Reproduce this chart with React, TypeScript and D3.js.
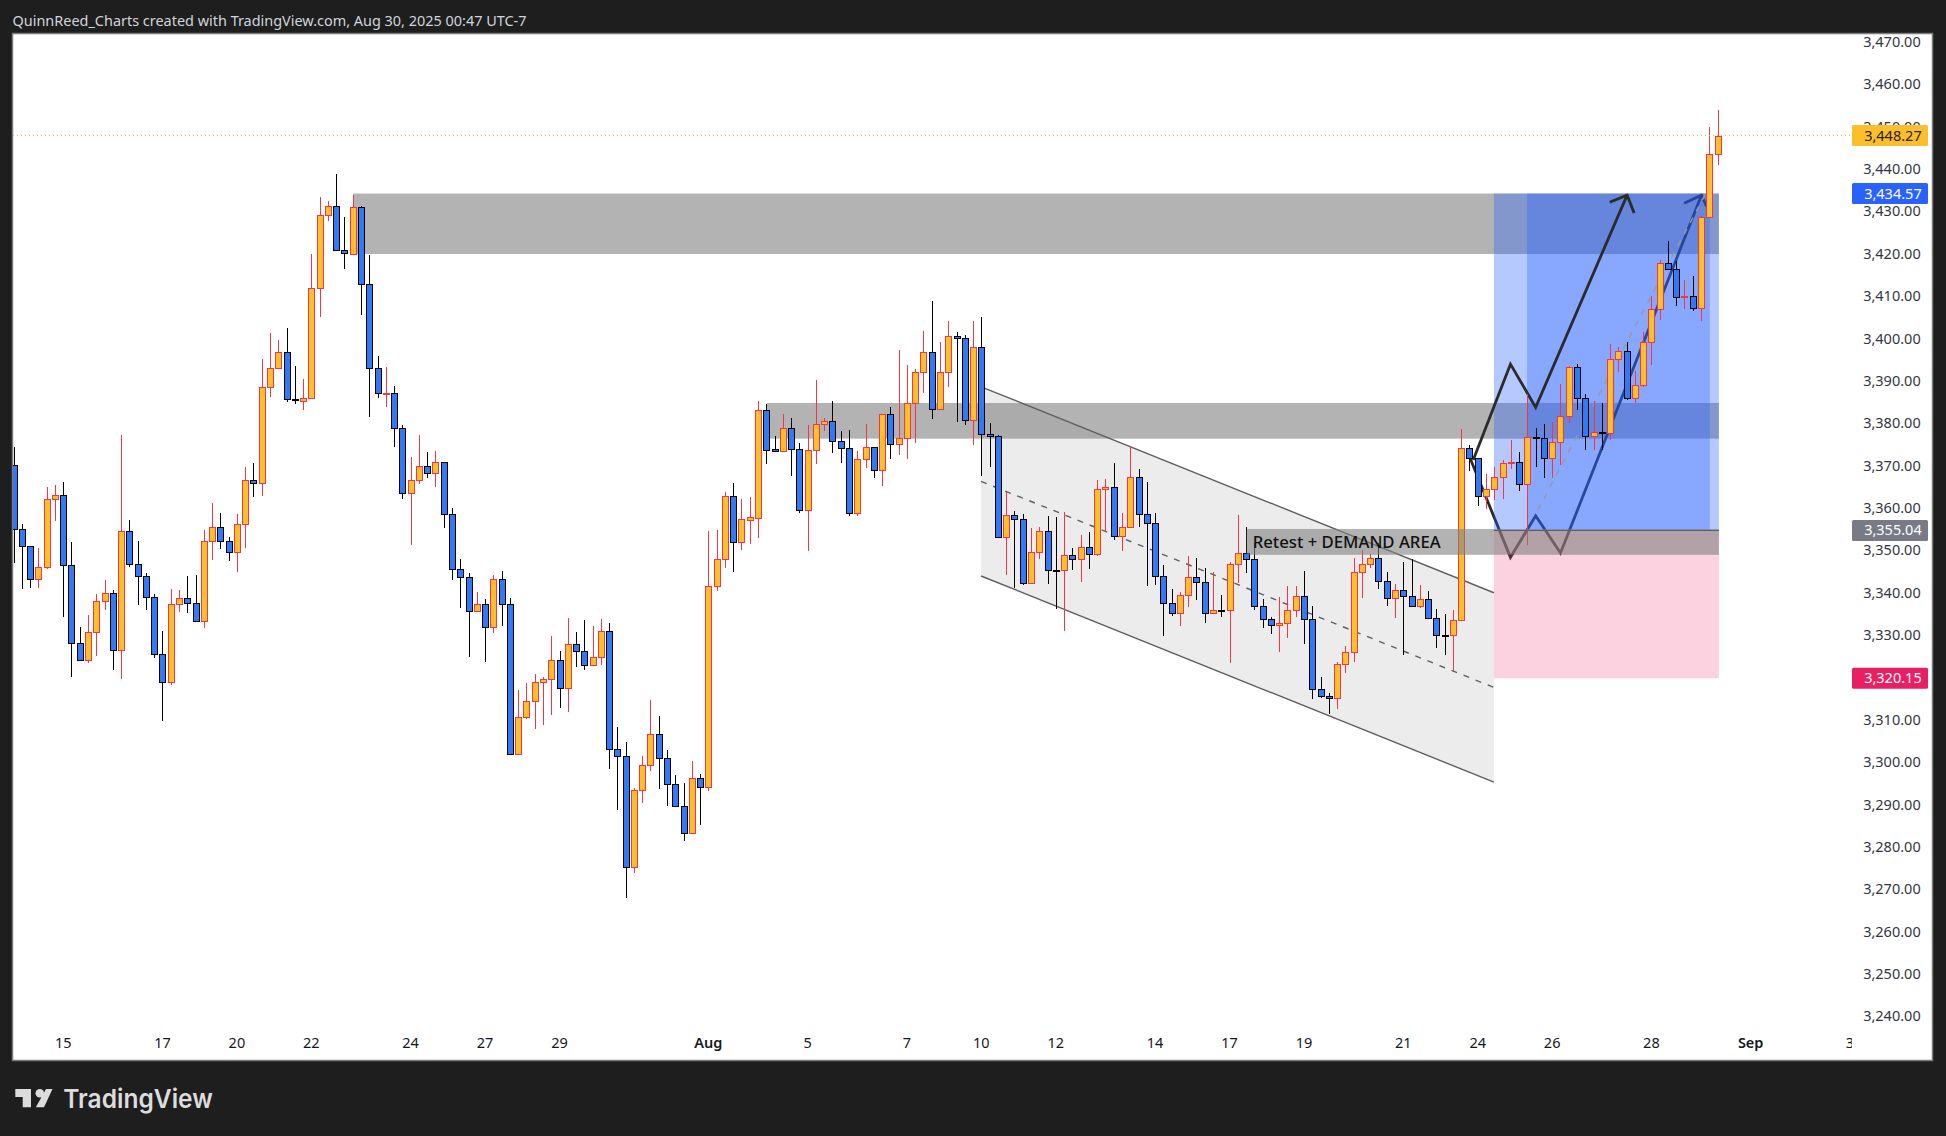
import React from "react";
import * as d3 from "d3";

const opens = [
3370.4,3355.5,3351.3,3343.5,3346.5,3362.4,3363.5,3346.8,3328.4,3324.4,
3331.0,3338.3,3340.2,3326.9,3354.8,3347.2,3344.2,3339.4,3325.8,3319.2,
3337.6,3339.2,3337.9,3333.6,3352.5,3355.8,3352.5,3349.9,3356.5,3366.9,
3366.2,3388.8,3393.3,3397.1,3386.0,3385.7,3386.2,3412.3,3429.4,3431.6,
3421.2,3420.4,3431.3,3413.3,3393.3,3387.5,3387.6,3379.3,3363.8,3366.9,
3370.2,3368.7,3371.1,3358.9,3346.0,3344.0,3336.0,3337.6,3332.2,3343.5,
3337.8,3302.3,3310.9,3314.7,3319.2,3320.1,3324.5,3317.8,3328.3,3326.5,
3323.4,3325.1,3331.4,3303.4,3301.7,3275.7,3293.9,3299.8,3306.9,3301.4,
3295.1,3289.9,3283.7,3296.7,3294.6,3342.0,3348.4,3363.1,3352.4,3357.6,
3358.1,3383.4,3374.2,3373.7,3379.2,3374.2,3359.8,3374.0,3380.1,3380.8,
3376.1,3374.4,3359.1,3371.8,3374.7,3369.2,3382.5,3375.5,3376.8,3385.1,
3392.4,3397.1,3383.6,3392.4,3400.9,3400.4,3381.1,3398.3,3377.7,3377.3,
3353.4,3358.6,3357.7,3342.6,3349.9,3354.9,3345.6,3345.6,3349.2,3348.2,
3351.1,3349.4,3364.8,3365.2,3353.7,3355.8,3367.6,3358.9,3356.7,3344.2,
3337.9,3335.5,3339.7,3344.0,3342.8,3335.5,3336.2,3336.2,3347.1,3349.7,
3348.2,3337.1,3334.1,3332.7,3333.1,3336.2,3339.5,3334.1,3317.6,3315.9,
3315.4,3323.5,3326.3,3345.2,3347.1,3348.5,3343.0,3339.0,3340.9,3339.5,
3337.1,3338.8,3334.3,3330.3,3330.3,3333.8,3374.4,3372.1,3363.1,3364.8,
3367.6,3370.9,3371.1,3365.9,3377.1,3376.8,3372.1,3375.9,3382.0,3393.6,
3386.2,3377.3,3378.2,3378.0,3395.4,3397.3,3386.2,3389.3,3399.5,3407.2,
3418.1,3416.7,3410.1,3410.3,3407.5,3429.0,3443.8];

const highs = [
3374.7,3356.6,3351.3,3350.9,3365.3,3365.8,3366.5,3352.3,3332.3,3335.1,
3340.0,3343.4,3341.0,3377.6,3357.6,3352.6,3345.0,3340.1,3331.3,3341.2,
3341.0,3344.3,3344.6,3355.1,3361.6,3359.1,3353.5,3359.0,3370.1,3371.0,
3395.5,3401.7,3400.0,3402.8,3393.9,3390.8,3420.3,3433.8,3432.8,3439.2,
3429.0,3434.3,3431.6,3420.1,3396.3,3393.6,3389.2,3379.9,3372.4,3377.6,
3373.6,3373.8,3371.1,3360.3,3348.3,3344.9,3340.6,3338.8,3344.6,3345.5,
3339.0,3317.4,3319.0,3321.2,3320.4,3330.1,3326.6,3334.4,3331.1,3333.9,
3332.5,3334.1,3333.2,3308.6,3305.1,3294.2,3301.8,3315.0,3311.3,3303.3,
3297.3,3295.5,3300.6,3297.5,3355.0,3355.2,3364.1,3366.3,3362.5,3363.0,
3385.6,3384.9,3377.4,3382.5,3381.6,3375.7,3379.9,3390.6,3381.6,3385.6,
3378.5,3378.8,3373.8,3380.2,3374.7,3382.5,3384.2,3397.6,3394.1,3393.2,
3402.1,3409.2,3399.5,3404.5,3401.9,3401.2,3404.5,3405.4,3380.3,3377.5,
3364.3,3359.7,3358.9,3355.6,3355.9,3358.5,3358.2,3359.4,3350.9,3354.0,
3354.7,3367.0,3367.2,3371.0,3359.2,3375.0,3369.6,3366.5,3359.2,3346.9,
3341.2,3340.5,3349.0,3348.6,3346.2,3345.3,3339.7,3347.5,3358.7,3355.9,
3352.0,3338.8,3334.6,3339.3,3341.9,3341.9,3345.5,3337.1,3320.4,3316.6,
3323.9,3327.8,3348.5,3350.4,3349.4,3352.0,3345.2,3342.3,3347.6,3348.2,
3342.1,3340.7,3336.5,3335.3,3336.2,3379.0,3375.1,3372.1,3368.4,3370.0,
3371.7,3376.4,3373.6,3387.2,3379.2,3380.2,3380.7,3389.6,3393.9,3394.3,
3387.3,3385.5,3385.1,3399.1,3398.4,3399.5,3392.7,3401.9,3410.5,3418.8,
3423.4,3418.6,3414.1,3415.0,3429.2,3450.2,3454.3];

const lows = [
3347.4,3341.3,3341.5,3341.5,3346.0,3357.2,3334.6,3320.5,3324.4,3323.8,
3325.4,3336.3,3322.1,3320.0,3346.4,3337.5,3336.3,3325.0,3310.0,3318.5,
3335.8,3335.5,3333.6,3332.1,3348.1,3350.6,3347.8,3345.2,3350.9,3363.0,
3363.2,3386.6,3393.3,3385.4,3384.9,3383.5,3386.2,3405.4,3428.1,3421.2,
3416.7,3420.0,3405.9,3381.9,3386.3,3384.1,3374.8,3362.4,3351.6,3366.1,
3367.4,3365.3,3355.7,3343.3,3336.8,3325.2,3336.0,3324.0,3330.8,3332.5,
3302.1,3302.1,3310.6,3308.2,3309.1,3311.5,3313.1,3312.2,3322.8,3322.1,
3323.4,3323.3,3298.8,3289.1,3268.2,3274.2,3290.7,3298.2,3294.0,3290.0,
3289.9,3281.7,3283.7,3285.5,3293.5,3340.8,3346.2,3345.2,3350.4,3351.9,
3353.3,3370.7,3373.7,3373.7,3367.9,3359.2,3350.2,3370.7,3378.5,3373.3,
3371.0,3358.5,3358.5,3369.8,3367.4,3365.5,3371.9,3372.9,3371.9,3375.7,
3387.5,3381.4,3383.6,3388.9,3380.7,3379.9,3375.2,3367.9,3370.0,3353.4,
3344.5,3341.5,3342.2,3342.6,3348.3,3342.4,3336.4,3331.3,3345.6,3342.9,
3346.0,3349.0,3354.6,3352.8,3350.2,3355.8,3355.9,3341.9,3342.2,3330.2,
3334.9,3332.5,3337.0,3338.6,3333.2,3335.5,3334.7,3323.8,3342.7,3344.9,
3336.2,3332.1,3330.7,3326.4,3329.7,3334.7,3328.2,3315.2,3315.4,3311.8,
3312.8,3321.3,3324.1,3339.2,3346.1,3341.2,3337.3,3334.5,3325.7,3337.1,
3336.8,3334.1,3327.4,3325.7,3321.8,3333.8,3369.1,3360.8,3360.0,3362.3,
3362.5,3369.6,3364.4,3351.6,3370.0,3367.4,3367.4,3370.5,3380.4,3383.5,
3374.0,3374.0,3374.0,3376.4,3392.5,3385.9,3385.1,3388.8,3394.1,3404.7,
3416.7,3408.0,3407.3,3406.9,3404.6,3429.0,3441.2];

const closes = [
3355.5,3351.3,3343.5,3346.5,3362.4,3363.5,3346.8,3328.4,3324.4,3331.0,
3338.3,3340.2,3326.9,3354.8,3347.2,3344.2,3339.4,3325.8,3319.2,3337.6,
3339.2,3337.9,3333.6,3352.5,3355.8,3352.5,3349.9,3356.5,3366.9,3366.2,
3388.8,3393.3,3397.1,3386.0,3385.8,3386.2,3412.3,3429.4,3431.6,3421.2,
3420.5,3431.3,3413.3,3393.3,3387.6,3387.6,3379.3,3363.8,3366.9,3370.2,
3368.7,3371.1,3358.9,3346.0,3344.0,3336.0,3337.6,3332.2,3343.5,3337.8,
3302.3,3310.9,3314.7,3319.2,3320.1,3324.5,3317.8,3328.3,3326.5,3323.4,
3325.1,3331.4,3303.4,3301.7,3275.7,3293.9,3299.8,3306.9,3301.4,3295.1,
3289.9,3283.7,3296.7,3294.6,3342.0,3348.4,3363.1,3352.4,3357.7,3358.2,
3383.4,3374.1,3373.7,3379.2,3374.2,3359.8,3374.0,3380.1,3380.8,3376.1,
3374.4,3359.1,3371.8,3374.7,3369.2,3382.5,3375.5,3376.8,3385.1,3392.4,
3397.1,3383.6,3392.4,3400.9,3400.4,3381.1,3398.3,3377.7,3377.3,3353.4,
3358.6,3357.7,3342.6,3349.9,3354.9,3345.6,3345.5,3349.2,3348.2,3351.1,
3349.4,3364.8,3365.2,3353.7,3355.8,3367.6,3358.9,3356.7,3344.2,3337.9,
3335.5,3339.7,3344.0,3342.8,3335.5,3336.2,3336.1,3347.1,3349.7,3348.2,
3337.1,3334.1,3332.7,3333.1,3336.2,3339.5,3334.1,3317.6,3315.9,3315.4,
3323.5,3326.3,3345.2,3347.1,3348.5,3343.0,3339.0,3340.9,3339.5,3337.1,
3338.8,3334.3,3330.3,3330.2,3333.8,3374.4,3372.1,3363.1,3364.8,3367.6,
3370.9,3371.1,3365.9,3377.0,3377.0,3372.1,3375.9,3382.0,3393.6,3386.2,
3377.3,3378.2,3378.1,3395.4,3397.3,3386.2,3389.3,3399.5,3407.2,3418.1,
3416.7,3410.1,3410.3,3407.5,3429.0,3443.8,3448.27];

const priceTicks = [3240,3250,3260,3270,3280,3290,3300,3310,3320,3330,3340,3350,3360,3370,3380,3390,3400,3410,3420,3430,3440,3450,3460,3470];
const timeLabels = ["15","17","20","22","24","27","29","Aug","5","7","10","12","14","17","19","21","24","26","28","Sep","3"];
const timeBars = [6,18,27,36,48,57,66,84,96,108,117,126,138,147,156,168,177,186,198,210,222];
const upperZone = { bar: 41, top: 3434.57, bottom: 3420.3 };
const lowerZone = { bar: 91, top: 3385.14, bottom: 3376.71 };
const demandZone = { bar: 149, top: 3355.4, bottom: 3349.3 };
const zoneEndBar = 206.1;
const channelBars = [116.9, 178.9];
const channelTop = [3388.96, 3340.34];
const channelMid = [3366.63, 3318.0];
const channelBottom = [3344.3, 3295.65];
const positionBars = [178.9, 206.1];
const positionInnerBars = [182.9, 205.0];
const entryPrice = 3355.04, targetPrice = 3434.57, stopPrice = 3320.15, lastPrice = 3448.27;
const blackPath: [number, number][] = [[176.4,3371.7],[180.9,3394.3],[183.95,3384.1],[195.0,3434.2]];
const blackHead: [number, number][] = [[192.9,3432.5],[195.0,3434.2],[195.85,3430.0]];
const navyPath: [number, number][] = [[176.0,3372.2],[180.9,3348.7],[183.95,3358.5],[186.95,3349.7],[204.0,3434.2]];
const navyHead: [number, number][] = [[201.9,3432.3],[204.0,3434.2],[204.6,3431.5]];
const dashedPath: [number, number][] = [[184.2,3359.9],[204.4,3434.2]];
const priceBoxes = [
  { value: lastPrice, fill: "#fbbf2d", color: "#2a2418" },
  { value: targetPrice, fill: "#2962ff", color: "#ffffff" },
  { value: entryPrice, fill: "#787b86", color: "#ffffff" },
  { value: stopPrice, fill: "#e91e63", color: "#ffffff" },
];

const FONT = "'Noto Sans', sans-serif";
const X0 = 14.05, PITCH = 8.272;
const x = d3.scaleLinear().domain([0, 206]).range([X0, X0 + 206 * PITCH]);
const y = d3.scaleLinear().domain([3448.27, 3320.15]).range([135.5, 678.3]);
const fmt = d3.format(",.2f");
const line = d3.line<[number, number]>().x((d) => x(d[0])).y((d) => y(d[1]));

const PANE = { l: 13, t: 34, r: 1932, b: 1060, plotR: 1850 };

function rectBy(x0: number, x1: number, top: number, bottom: number) {
  return { x: x(x0), width: x(x1) - x(x0), y: y(top), height: y(bottom) - y(top) };
}

function Candles() {
  return (
    <g>
      {opens.map((o, i) => {
        const c = closes[i];
        const up = c >= o;
        const cx = Math.floor(x(i));
        const top = Math.round(y(Math.max(o, c)));
        const bot = Math.round(y(Math.min(o, c)));
        const hi = Math.round(y(highs[i]));
        const lo = Math.round(y(lows[i]));
        const edge = up ? "#f23645" : "#000000";
        return (
          <g key={i}>
            <line x1={cx + 0.5} x2={cx + 0.5} y1={hi} y2={lo} stroke={edge} strokeWidth={1} />
            <rect x={cx - 3 + 0.5} y={top + 0.5} width={6} height={Math.max(bot - top, 1)} fill={up ? "#fbc02d" : "#3179f5"} stroke={edge} strokeWidth={1} />
          </g>
        );
      })}
    </g>
  );
}

export default function App() {
  const upper = rectBy(upperZone.bar, zoneEndBar, upperZone.top, upperZone.bottom);
  const lower = rectBy(lowerZone.bar, zoneEndBar, lowerZone.top, lowerZone.bottom);
  const demand = rectBy(demandZone.bar, zoneEndBar, demandZone.top, demandZone.bottom);
  const profitOuter = rectBy(positionBars[0], positionBars[1], targetPrice, entryPrice);
  const profitInner = rectBy(positionInnerBars[0], positionInnerBars[1], targetPrice, entryPrice);
  const loss = rectBy(positionBars[0], positionBars[1], entryPrice, stopPrice);
  const channelArea = [
    [channelBars[0], channelTop[0]], [channelBars[1], channelTop[1]],
    [channelBars[1], channelBottom[1]], [channelBars[0], channelBottom[0]],
  ].map((d) => `${x(d[0])},${y(d[1])}`).join(" ");
  const seg = (a: number[]) => line([[channelBars[0], a[0]], [channelBars[1], a[1]]]) as string;

  return (
    <svg width={1946} height={1136} style={{ position: "absolute", left: 0, top: 0, display: "block" }} fontFamily={FONT}>
      <rect width={1946} height={1136} fill="#1e1e1e" />
      <defs>
        <clipPath id="plot"><rect x={PANE.l} y={PANE.t} width={PANE.plotR - PANE.l} height={PANE.b - PANE.t} /></clipPath>
        <clipPath id="time"><rect x={PANE.l} y={PANE.t} width={1852 - PANE.l} height={PANE.b - PANE.t + 5} /></clipPath>
      </defs>
      <text x={12.5} y={25.5} fontSize={15} fill="#d1d4dc" textLength={514} lengthAdjust="spacingAndGlyphs">QuinnReed_Charts created with TradingView.com, Aug 30, 2025 00:47 UTC-7</text>
      <rect x={PANE.l - 0.5} y={PANE.t - 0.5} width={PANE.r - PANE.l + 1} height={PANE.b - PANE.t + 1} fill="#ffffff" stroke="#7a7a7a" strokeWidth={1.5} />

      <g clipPath="url(#plot)">
        <rect {...upper} fill="#808080" fillOpacity={0.6} />
        <rect {...lower} fill="#808080" fillOpacity={0.6} />
        <polygon points={channelArea} fill="#808080" fillOpacity={0.15} />
        <path d={seg(channelTop)} stroke="#5f5f5f" strokeWidth={1.4} fill="none" />
        <path d={seg(channelBottom)} stroke="#5f5f5f" strokeWidth={1.4} fill="none" />
        <path d={seg(channelMid)} stroke="#5f5f5f" strokeWidth={1.4} strokeDasharray="6 7" fill="none" />

        <path d={line(navyPath) as string} stroke="#1c1c1c" strokeOpacity={0.95} strokeWidth={2.8} fill="none" />
        <path d={line(navyHead) as string} stroke="#1c1c1c" strokeOpacity={0.95} strokeWidth={2.8} fill="none" />

        <rect {...loss} fill="#f23b7c" fillOpacity={0.23} />
        <rect {...profitOuter} fill="#2962ff" fillOpacity={0.34} />
        <rect {...profitInner} fill="#2962ff" fillOpacity={0.33} />
        <path d={line(dashedPath) as string} stroke="#9a9a9a" strokeWidth={1.4} strokeDasharray="6 7" fill="none" />

        <path d={line(blackPath) as string} stroke="#2b2b2b" strokeWidth={2.8} fill="none" strokeLinejoin="miter" />
        <path d={line(blackHead) as string} stroke="#2b2b2b" strokeWidth={2.8} fill="none" />

        <Candles />

        <line x1={PANE.l} x2={PANE.plotR} y1={y(lastPrice)} y2={y(lastPrice)} stroke="#f2b72e" strokeWidth={1} strokeDasharray="1 3" />

        <rect {...demand} fill="#808080" fillOpacity={0.6} />
        <line x1={x(positionBars[0])} x2={x(positionBars[1])} y1={y(entryPrice)} y2={y(entryPrice)} stroke="#5c5c64" strokeWidth={1.2} />
        <text x={1252.7} y={547.5} fontSize={17} fontWeight={500} fill="#111111" textLength={188} lengthAdjust="spacingAndGlyphs">Retest + DEMAND AREA</text>
      </g>

      <g fontSize={14.5} fill="#333640" textAnchor="end">
        {priceTicks.map((p) => (
          <text key={p} x={1920.7} y={y(p) + 3.5}>{fmt(p)}</text>
        ))}
      </g>
      {priceBoxes.map((b) => (
        <g key={b.value}>
          <rect x={1852} y={y(b.value) - 10.5} width={76} height={21} rx={1.5} fill={b.fill} />
          <text x={1921.7} y={y(b.value) + 5} fontSize={14.5} textAnchor="end" fill={b.color}>{fmt(b.value)}</text>
        </g>
      ))}

      <g clipPath="url(#time)" fontSize={14.5} fill="#131722" textAnchor="middle">
        {timeLabels.map((t, i) => (
          <text key={i} x={x(timeBars[i]) - 0.5} y={1048} fontWeight={t === "Aug" || t === "Sep" ? 600 : 400}>{t}</text>
        ))}
      </g>

      <g fill="#dcdcdc">
        <path d="M15.3 1089 H31 V1107.3 H22.7 V1097 H15.3 Z" />
        <circle cx={39.8} cy={1093.2} r={4.3} />
        <path d="M46 1089 H52.5 L44 1107.3 H35.8 Z" />
        <text x={63.3} y={1108} fontSize={26} fontFamily="Inter, sans-serif" fontWeight={600} textLength={149.5} lengthAdjust="spacingAndGlyphs">TradingView</text>
      </g>
    </svg>
  );
}
